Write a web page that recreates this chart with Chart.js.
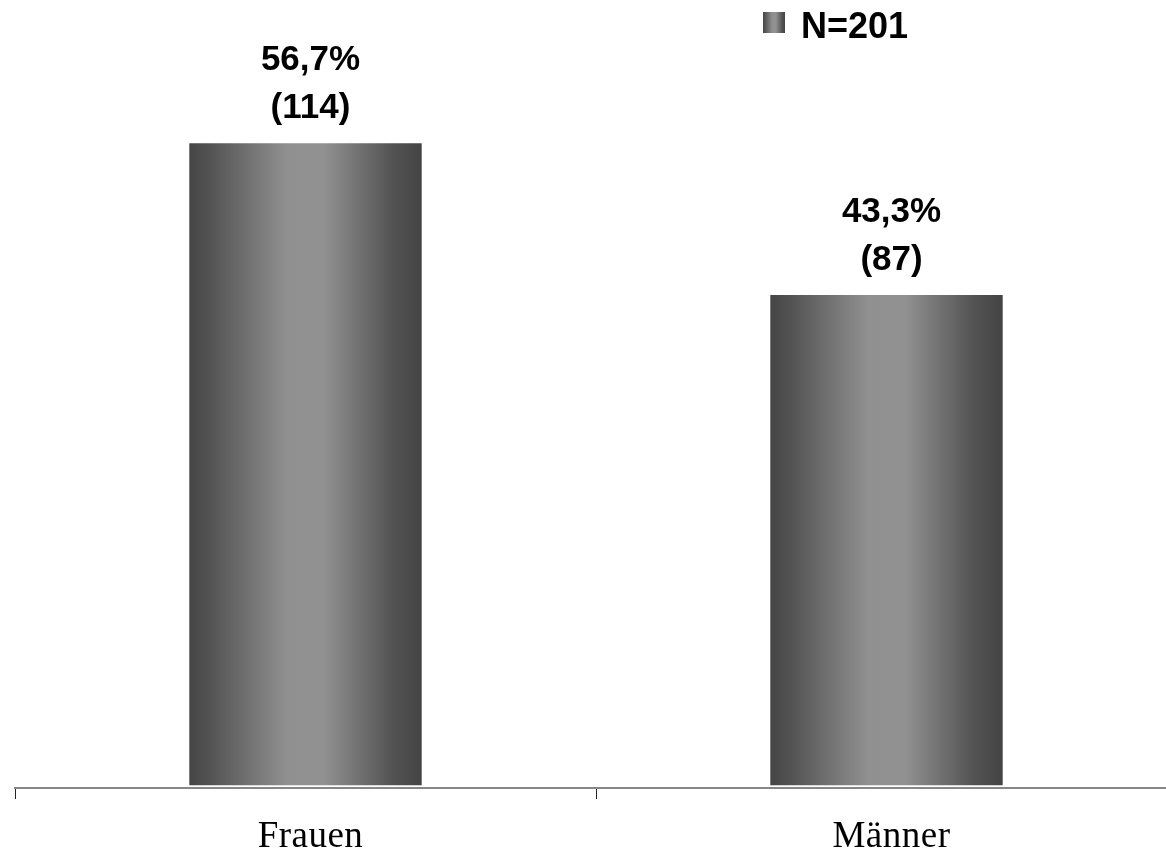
<!DOCTYPE html>
<html>
<head>
<meta charset="utf-8">
<script src="https://cdn.jsdelivr.net/npm/chart.js@4.4.0/dist/chart.umd.min.js"></script>
<style>
    html, body { margin: 0; padding: 0; background: #fff; overflow: hidden; }
    canvas { display: block; }
</style>
</head>
<body>
<canvas id="c_gender_bar" width="1177" height="856"></canvas>
<script>
// Data
const categories = ['Frauen', 'Männer']
const percentValues = [56.7, 43.3]
const countValues = [114, 87]
const seriesLabel = 'N=201'
const yMin = -0.25
const yMax = 60
// Data EOF

// grey "cylinder" look, dark edges, light middle
function barGradient(ctx, x0, x1) {
    let g = ctx.createLinearGradient(x0, 0, x1, 0)
    g.addColorStop(0, '#454545')
    g.addColorStop(0.1, '#555555')
    g.addColorStop(0.42, '#909090')
    g.addColorStop(0.58, '#919191')
    g.addColorStop(0.88, '#525252')
    g.addColorStop(1, '#444444')
    return g
}

let fmtPct = function (v) {
    return v.toFixed(1).replace('.', ',') + '%'
}

// **** Labels + legend plugin
const barLabels = {
    id: 'barLabels',
    beforeDraw(chart) {
        // axis labels in the picture are a touch spaced out
        chart.ctx.letterSpacing = '0.5px'
    },
    beforeDatasetsDraw(chart) {
        chart.ctx.letterSpacing = '0px'
    },
    afterDatasetsDraw(chart) {
        const ctx = chart.ctx
        const meta = chart.getDatasetMeta(0)
        ctx.save()
        ctx.fillStyle = '#000'
        ctx.font = 'bold 35px "Liberation Sans", Arial, sans-serif'
        ctx.textAlign = 'center'
        ctx.textBaseline = 'alphabetic'
        meta.data.forEach(function (bar, i) {
            ctx.fillText(fmtPct(percentValues[i]), bar.x + 5, bar.y - 73)
            ctx.fillText(`(${countValues[i]})`, bar.x + 5, bar.y - 25)
        })

        // legend
        const lx = 763, ly = 12
        ctx.fillStyle = barGradient(ctx, lx, lx + 22)
        ctx.fillRect(lx, ly, 22, 21)
        ctx.fillStyle = '#000'
        ctx.textAlign = 'left'
        ctx.font = 'bold 36px "Liberation Sans", Arial, sans-serif'
        ctx.fillText(chart.data.datasets[0].label, 801, 38)
        ctx.restore()
    }
}
// **** EOF

// **** CHART INIT
var ctx = document.getElementById('c_gender_bar').getContext('2d')
var data = {
    labels: categories,
    datasets: [{
        label: seriesLabel,
        data: percentValues,
        categoryPercentage: 1,
        barPercentage: 0.4,
        borderWidth: 0,
        backgroundColor: function (context) {
            const chart = context.chart
            const area = chart.chartArea
            if (!area || context.dataIndex === undefined) { return '#777' }
            const w = (area.right - area.left) / categories.length * 0.4
            const cx = chart.scales.x.getPixelForValue(context.dataIndex)
            return barGradient(chart.ctx, cx - w / 2, cx + w / 2)
        }
    }]
}

var options = {
    responsive: false,
    animation: false,
    layout: {
        padding: { left: 15, right: 0, top: 106, bottom: 0 }
    },
    plugins: {
        legend: { display: false },
        tooltip: { enabled: false }
    },
    scales: {
        x: {
            grid: {
                drawOnChartArea: false,
                tickLength: 11,
                color: '#222',
                lineWidth: 1
            },
            border: { color: '#878787', width: 2 },
            ticks: {
                color: '#000',
                font: { family: '"Liberation Serif", "Times New Roman", serif', size: 37 },
                padding: 16,
                labelOffset: 5,
                maxRotation: 0,
                autoSkip: false
            },
            afterFit: function (scale) { scale.height = 68 }
        },
        y: {
            display: false,
            min: yMin,
            max: yMax
        }
    }
}

new Chart(ctx, {
    type: 'bar',
    data: data,
    options: options,
    plugins: [barLabels]
})
// **** EOF
</script>
</body>
</html>
